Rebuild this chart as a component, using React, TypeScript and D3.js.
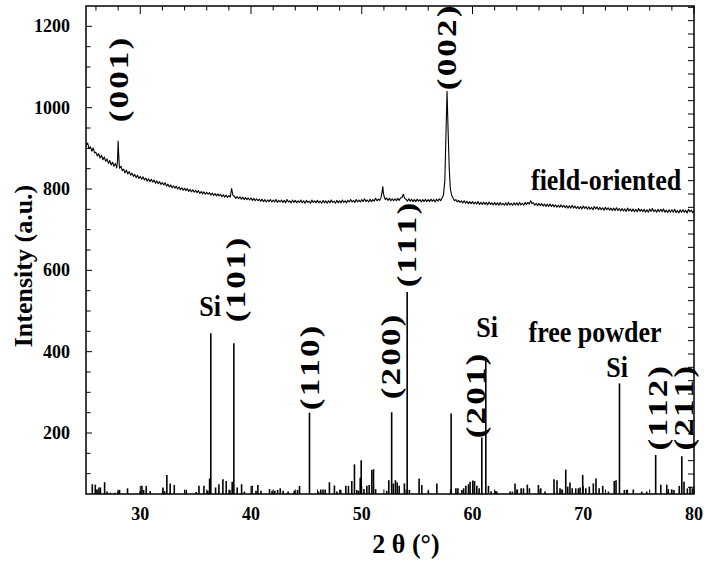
import React, { useEffect, useRef } from 'react';
import * as d3 from 'd3';

// field-oriented scan: [2theta, intensity]
const fieldPattern: [number, number][] = [
  [25.1, 908], [25.25, 913], [25.375, 899], [25.5, 904], [25.625, 893], [25.75, 901], [25.875, 889],
  [26.0, 890], [26.125, 881], [26.25, 887], [26.375, 876], [26.5, 883], [26.625, 872], [26.75, 879], [26.875, 868],
  [27.0, 874], [27.125, 863], [27.25, 870], [27.375, 859], [27.5, 866], [27.625, 856], [27.75, 863], [27.875, 852],
  [27.95, 870], [28.0, 918], [28.06, 880],
  [28.125, 851], [28.25, 856], [28.375, 845], [28.5, 849], [28.625, 840], [28.75, 846], [28.875, 837],
  [29.0, 843], [29.125, 834], [29.25, 839], [29.375, 831], [29.5, 836], [29.625, 828], [29.75, 834], [29.875, 826],
  [30.0, 831], [30.125, 824], [30.25, 830], [30.375, 822], [30.5, 827], [30.625, 819], [30.75, 825], [30.875, 818],
  [31.0, 824], [31.125, 817], [31.25, 822], [31.375, 814], [31.5, 820], [31.625, 813], [31.75, 818], [31.875, 811],
  [32.0, 816], [32.125, 810], [32.25, 815], [32.375, 807], [32.5, 812], [32.625, 805], [32.75, 810], [32.875, 803],
  [33.0, 808], [33.125, 802], [33.25, 807], [33.375, 800], [33.5, 805], [33.625, 798], [33.75, 803], [33.875, 797],
  [34.0, 802], [34.125, 796], [34.25, 801], [34.375, 794], [34.5, 799], [34.625, 793], [34.75, 798], [34.875, 792],
  [35.0, 797], [35.125, 791], [35.25, 796], [35.375, 789], [35.5, 794], [35.625, 788], [35.75, 793], [35.875, 787],
  [36.0, 792], [36.125, 787], [36.25, 791], [36.375, 785], [36.5, 790], [36.625, 784], [36.75, 789], [36.875, 783],
  [37.0, 788], [37.125, 783], [37.25, 787], [37.375, 781], [37.5, 786], [37.625, 780], [37.75, 785], [37.875, 779],
  [38.0, 784], [38.125, 780], [38.25, 801], [38.375, 784], [38.5, 782], [38.625, 777], [38.75, 781], [38.875, 776],
  [39.0, 781], [39.125, 775], [39.25, 780], [39.375, 774], [39.5, 779], [39.625, 774], [39.75, 778], [39.875, 773],
  [40.0, 778], [40.125, 772], [40.25, 777], [40.375, 771], [40.5, 776], [40.625, 771], [40.75, 775], [40.875, 770],
  [41.0, 775], [41.125, 769], [41.25, 774], [41.375, 768], [41.5, 773], [41.625, 769], [41.75, 774], [41.875, 768],
  [42.0, 773], [42.125, 768], [42.25, 774], [42.375, 767], [42.5, 772], [42.625, 768], [42.75, 773], [42.875, 767],
  [43.0, 772], [43.125, 766], [43.25, 774], [43.375, 768], [43.5, 771], [43.625, 766], [43.75, 773], [43.875, 767],
  [44.0, 772], [44.125, 766], [44.25, 771], [44.375, 767], [44.5, 773], [44.625, 766], [44.75, 771], [44.875, 765],
  [45.0, 772], [45.125, 767], [45.25, 770], [45.375, 765], [45.5, 773], [45.625, 767], [45.75, 771], [45.875, 766],
  [46.0, 772], [46.125, 766], [46.25, 770], [46.375, 765], [46.5, 772], [46.625, 766], [46.75, 771], [46.875, 765],
  [47.0, 771], [47.125, 766], [47.25, 773], [47.375, 767], [47.5, 770], [47.625, 765], [47.75, 772], [47.875, 766],
  [48.0, 771], [48.125, 766], [48.25, 773], [48.375, 767], [48.5, 771], [48.625, 766], [48.75, 772], [48.875, 768],
  [49.0, 774], [49.125, 768], [49.25, 772], [49.375, 767], [49.5, 774], [49.625, 768], [49.75, 773], [49.875, 768],
  [50.0, 774], [50.125, 769], [50.25, 776], [50.375, 769], [50.5, 773], [50.625, 768], [50.75, 775], [50.875, 769],
  [51.0, 774], [51.125, 770], [51.25, 777], [51.375, 771], [51.5, 775], [51.625, 772], [51.75, 780],
  [51.85, 795], [51.9, 806], [51.95, 790], [52.05, 779],
  [52.125, 774], [52.25, 778], [52.375, 772], [52.5, 777], [52.625, 771], [52.75, 776], [52.875, 771],
  [53.0, 776], [53.125, 771], [53.25, 777], [53.375, 772], [53.5, 778], [53.625, 779], [53.75, 787], [53.875, 777],
  [54.0, 775], [54.125, 770], [54.25, 776], [54.375, 770], [54.5, 775], [54.625, 769], [54.75, 774], [54.875, 769],
  [55.0, 775], [55.125, 770], [55.25, 774], [55.375, 768], [55.5, 774], [55.625, 769], [55.75, 775], [55.875, 769],
  [56.0, 774], [56.125, 769], [56.25, 775], [56.375, 770], [56.5, 774], [56.625, 768], [56.75, 775], [56.875, 770],
  [57.0, 776], [57.125, 771], [57.25, 778], [57.375, 785], [57.5, 820], [57.6, 930],
  [57.7, 1040], [57.8, 940], [57.9, 850], [58.0, 800], [58.125, 784],
  [58.25, 778], [58.375, 771], [58.5, 774], [58.625, 768], [58.75, 772], [58.875, 767],
  [59.0, 771], [59.125, 766], [59.25, 771], [59.375, 765], [59.5, 770], [59.625, 764], [59.75, 769], [59.875, 764],
  [60.0, 769], [60.125, 763], [60.25, 768], [60.375, 763], [60.5, 769], [60.625, 762], [60.75, 767], [60.875, 762],
  [61.0, 768], [61.125, 762], [61.25, 767], [61.375, 761], [61.5, 768], [61.625, 762], [61.75, 766], [61.875, 761],
  [62.0, 767], [62.125, 761], [62.25, 766], [62.375, 760], [62.5, 767], [62.625, 761], [62.75, 765], [62.875, 760],
  [63.0, 766], [63.125, 760], [63.25, 767], [63.375, 761], [63.5, 765], [63.625, 760], [63.75, 766], [63.875, 761],
  [64.0, 766], [64.125, 760], [64.25, 767], [64.375, 761], [64.5, 765], [64.625, 760], [64.75, 767], [64.875, 762],
  [65.0, 767], [65.125, 763], [65.25, 771], [65.375, 764], [65.5, 766], [65.625, 760], [65.75, 765], [65.875, 759],
  [66.0, 765], [66.125, 759], [66.25, 764], [66.375, 758], [66.5, 763], [66.625, 757], [66.75, 763], [66.875, 757],
  [67.0, 763], [67.125, 757], [67.25, 762], [67.375, 756], [67.5, 761], [67.625, 755], [67.75, 760], [67.875, 755],
  [68.0, 761], [68.125, 755], [68.25, 760], [68.375, 754], [68.5, 759], [68.625, 753], [68.75, 759], [68.875, 753],
  [69.0, 760], [69.125, 753], [69.25, 758], [69.375, 752], [69.5, 757], [69.625, 751], [69.75, 757], [69.875, 751],
  [70.0, 758], [70.125, 752], [70.25, 757], [70.375, 750], [70.5, 756], [70.625, 750], [70.75, 755], [70.875, 749],
  [71.0, 757], [71.125, 751], [71.25, 756], [71.375, 749], [71.5, 755], [71.625, 749], [71.75, 754], [71.875, 748],
  [72.0, 755], [72.125, 749], [72.25, 754], [72.375, 748], [72.5, 753], [72.625, 747], [72.75, 753], [72.875, 747],
  [73.0, 754], [73.125, 747], [73.25, 752], [73.375, 746], [73.5, 752], [73.625, 746], [73.75, 751], [73.875, 745],
  [74.0, 753], [74.125, 746], [74.25, 751], [74.375, 745], [74.5, 751], [74.625, 744], [74.75, 750], [74.875, 744],
  [75.0, 752], [75.125, 745], [75.25, 750], [75.375, 744], [75.5, 750], [75.625, 743], [75.75, 749], [75.875, 743],
  [76.0, 751], [76.125, 745], [76.25, 752], [76.375, 744], [76.5, 749], [76.625, 743], [76.75, 750], [76.875, 744],
  [77.0, 750], [77.125, 744], [77.25, 751], [77.375, 743], [77.5, 748], [77.625, 742], [77.75, 749], [77.875, 743],
  [78.0, 749], [78.125, 743], [78.25, 750], [78.375, 742], [78.5, 747], [78.625, 741], [78.75, 749], [78.875, 743],
  [79.0, 749], [79.125, 743], [79.25, 748], [79.375, 741], [79.5, 750], [79.625, 744], [79.75, 748], [79.875, 742],
  [80.0, 747],
];

// free powder reference sticks: [2theta, intensity]
const powderPattern: [number, number][] = [
  [25.67, 74], [25.94, 73], [26.1, 61], [26.27, 66], [26.4, 66], [26.78, 79],
  [27.0, 56], [27.3, 53], [27.7, 53], [28.0, 57], [28.13, 60], [28.85, 64],
  [30.0, 57], [30.15, 70], [30.3, 60], [30.54, 70], [30.9, 57],
  [32.05, 66], [32.2, 57], [32.4, 97], [32.7, 76], [33.07, 72], [34.15, 60],
  [35.05, 55], [35.3, 70], [35.75, 70], [36.1, 58], [36.26, 88], [36.37, 445],
  [36.8, 66], [37.1, 74], [37.46, 86], [37.76, 82], [38.1, 60], [38.3, 80],
  [38.45, 421], [38.75, 66], [39.15, 74], [39.4, 56], [40.1, 70], [40.45, 58],
  [40.62, 72], [40.9, 58], [41.67, 62], [41.9, 58], [42.15, 58], [42.4, 60],
  [42.64, 64], [42.9, 58], [43.35, 56], [43.9, 58], [44.2, 60], [44.38, 70],
  [45.28, 250], [46.1, 56], [46.3, 61], [46.5, 61], [46.7, 61], [47.08, 79],
  [47.53, 71], [47.75, 56], [48.1, 60], [48.56, 70], [48.8, 70], [49.1, 82],
  [49.34, 123], [49.55, 60], [49.7, 58], [49.86, 90], [49.95, 133], [50.2, 62],
  [50.46, 70], [50.67, 72], [50.91, 109], [51.06, 111], [51.25, 62],
  [52.25, 58], [52.44, 84], [52.7, 251], [52.85, 76], [53.04, 84], [53.2, 78],
  [53.38, 70], [53.85, 76], [54.1, 547], [54.3, 60], [55.18, 88], [55.42, 72],
  [56.02, 57], [56.78, 76], [58.07, 248], [58.5, 64], [58.68, 64], [59.04, 60],
  [59.2, 64], [59.4, 70], [59.64, 74], [59.78, 80], [60.03, 83], [60.18, 82],
  [60.39, 70], [60.6, 64], [60.84, 189], [61.2, 387], [61.44, 70], [61.68, 57],
  [62.1, 57], [62.19, 56], [63.39, 56], [63.6, 56], [63.84, 76], [64.05, 61],
  [64.39, 64], [64.6, 64], [64.95, 73], [65.14, 64], [65.95, 72], [66.16, 64],
  [66.55, 56], [67.36, 86], [67.63, 84], [67.9, 64], [68.11, 61], [68.42, 110],
  [68.6, 68], [68.8, 78], [69.0, 64], [69.32, 64], [69.56, 64], [69.71, 66],
  [69.95, 97], [70.23, 64], [70.55, 68], [70.91, 76], [71.15, 88], [71.43, 64],
  [71.76, 70], [72.27, 56], [72.8, 82], [72.96, 84], [73.27, 322], [73.71, 60],
  [73.92, 60], [74.52, 61], [75.28, 56], [75.73, 56], [76.54, 146], [77.0, 73],
  [77.54, 73], [77.68, 62], [77.98, 61], [78.19, 60], [78.67, 70], [78.9, 143],
  [79.1, 80], [79.4, 64], [79.64, 68], [79.85, 64],
];

// rotated Miller-index labels: text, 2theta, intensity at label centre
const millerLabels: [string, number, number][] = [
  ['( 0 0 1 )', 28.1, 1068],
  ['( 0 0 2 )', 57.7, 1147],
  ['( 1 0 1 )', 38.66, 576],
  ['( 1 1 0 )', 45.34, 360],
  ['( 2 0 0 )', 52.65, 387],
  ['( 1 1 1 )', 54.1, 662],
  ['( 2 0 1 )', 60.28, 291],
  ['( 1 1 2 )', 76.75, 261],
  ['( 2 1 1 )', 79.1, 261],
];

// horizontal labels: text, 2theta (centre), intensity (baseline)
const plainLabels: [string, number, number][] = [
  ['Si', 36.3, 488],
  ['Si', 61.32, 436],
  ['Si', 73.05, 338],
  ['free powder', 71.07, 424],
  ['field-oriented', 72.06, 797],
];

const xDomain: [number, number] = [25.1, 80];
const yDomain: [number, number] = [50, 1250];
const xTickValues = [30, 40, 50, 60, 70, 80];
const yTickValues = [200, 400, 600, 800, 1000, 1200];

const W = 704;
const H = 567;
const FONT = "'Liberation Serif', 'Times New Roman', serif";

export default function App() {
  const ref = useRef<SVGSVGElement>(null);

  useEffect(() => {
    const svg = d3.select(ref.current);
    svg.selectAll('*').remove();

    const left = 86, right = 694, top = 6, bottom = 494;
    const x = d3.scaleLinear().domain(xDomain).range([left, right]);
    const y = d3.scaleLinear().domain(yDomain).range([bottom, top]);
    // right axis carries its own finer tick spacing
    const yR = d3.scaleLinear().domain([-0.5, 36.1]).range([bottom, top]);

    const g = svg.append('g');

    // free powder sticks
    g.selectAll('line.stick')
      .data(powderPattern)
      .enter()
      .append('line')
      .attr('class', 'stick')
      .attr('x1', d => x(d[0]))
      .attr('x2', d => x(d[0]))
      .attr('y1', y(yDomain[0]))
      .attr('y2', d => y(d[1]))
      .attr('stroke', '#000')
      .attr('stroke-width', 1.6);

    // field-oriented curve
    const line = d3.line<[number, number]>().x(d => x(d[0])).y(d => y(d[1]));
    g.append('path')
      .datum(fieldPattern)
      .attr('d', line)
      .attr('fill', 'none')
      .attr('stroke', '#000')
      .attr('stroke-width', 1.1)
      .attr('stroke-linejoin', 'round');

    // ticks
    const ticks = g.append('g').attr('stroke', '#000').attr('stroke-width', 1);
    d3.range(26, 80.1, 2).forEach(v => {
      const major = v % 10 === 0;
      const len = major ? 8 : 4.5;
      ticks.append('line').attr('x1', x(v)).attr('x2', x(v)).attr('y1', top).attr('y2', top + len);
      ticks.append('line').attr('x1', x(v)).attr('x2', x(v)).attr('y1', bottom).attr('y2', bottom - len);
    });
    d3.range(100, 1250, 50).forEach(v => {
      const major = v % 200 === 0;
      const len = major ? 6 : 4.5;
      ticks.append('line').attr('x1', left).attr('x2', left + len).attr('y1', y(v)).attr('y2', y(v));
    });
    d3.range(0, 37).forEach(v => {
      ticks.append('line').attr('x1', right).attr('x2', right - 6).attr('y1', yR(v)).attr('y2', yR(v));
    });

    // frame
    g.append('rect')
      .attr('x', left).attr('y', top)
      .attr('width', right - left).attr('height', bottom - top)
      .attr('fill', 'none').attr('stroke', '#000').attr('stroke-width', 1.5);

    // tick labels
    g.selectAll('text.xt')
      .data(xTickValues)
      .enter()
      .append('text')
      .attr('class', 'xt')
      .attr('x', d => x(d))
      .attr('y', 520)
      .attr('text-anchor', 'middle')
      .attr('font-family', FONT)
      .attr('font-weight', 'bold')
      .attr('font-size', 18)
      .text(d => d);

    g.selectAll('text.yt')
      .data(yTickValues)
      .enter()
      .append('text')
      .attr('class', 'yt')
      .attr('x', 70)
      .attr('y', d => y(d) + 6)
      .attr('text-anchor', 'end')
      .attr('font-family', FONT)
      .attr('font-weight', 'bold')
      .attr('font-size', 18)
      .text(d => d);

    // axis titles
    g.append('text')
      .attr('transform', 'translate(32,266) rotate(-90)')
      .attr('text-anchor', 'middle')
      .attr('font-family', FONT)
      .attr('font-weight', 'bold')
      .attr('font-size', 26)
      .text('Intensity (a.u.)');

    g.append('text')
      .attr('transform', 'translate(406,553) scale(1,1.08)')
      .attr('text-anchor', 'middle')
      .attr('font-family', FONT)
      .attr('font-weight', 'bold')
      .attr('font-size', 26)
      .text('2 θ (°)');

    // peak labels: glyphs are drawn stretched along the reading direction
    g.selectAll('text.miller')
      .data(millerLabels)
      .enter()
      .append('text')
      .attr('class', 'miller')
      .attr('transform', d => `translate(${x(d[1])},${y(d[2])}) rotate(-90) scale(1.3,1)`)
      .attr('text-anchor', 'middle')
      .attr('dominant-baseline', 'central')
      .attr('textLength', 65)
      .attr('lengthAdjust', 'spacing')
      .attr('font-family', FONT)
      .attr('font-weight', 'bold')
      .attr('font-size', 27)
      .text(d => d[0]);

    g.selectAll('text.plain')
      .data(plainLabels)
      .enter()
      .append('text')
      .attr('class', 'plain')
      .attr('transform', d => `translate(${x(d[1])},${y(d[2])}) scale(1,1.12)`)
      .attr('text-anchor', 'middle')
      .attr('font-family', FONT)
      .attr('font-weight', 'bold')
      .attr('font-size', 26)
      .text(d => d[0]);
  }, []);

  return (
    <svg
      ref={ref}
      width={W}
      height={H}
      style={{ position: 'absolute', left: 0, top: 0, background: '#fff' }}
    />
  );
}
